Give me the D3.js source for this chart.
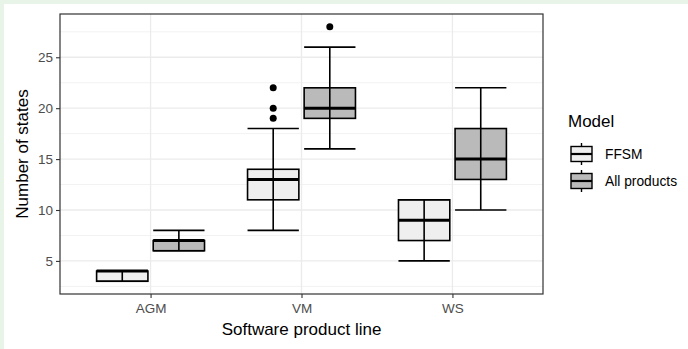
<!DOCTYPE html>
<html>
<head>
<meta charset="utf-8">
<script src="https://cdn.jsdelivr.net/npm/d3@7"></script>
<style>
  body { margin: 0; background: #e9f4e9; }
  svg { display: block; font-family: "Liberation Sans", Arial, sans-serif; }
</style>
</head>
<body>
<div id="wrapper"></div>
<script>
// data
const categories = ["AGM", "VM", "WS"]
const models = ["FFSM", "All products"]
const yTicks = [5, 10, 15, 20, 25]

const ffsmMin = [3, 8, 5]
const ffsmQ1 = [3, 11, 7]
const ffsmMedian = [4, 13, 9]
const ffsmQ3 = [4, 14, 11]
const ffsmMax = [4, 18, 11]
const ffsmOutliers = [[], [19, 20, 22], []]

const allMin = [6, 16, 10]
const allQ1 = [6, 19, 13]
const allMedian = [7, 20, 15]
const allQ3 = [7, 22, 18]
const allMax = [8, 26, 22]
const allOutliers = [[], [28], []]

function drawBoxes() {
  const rows = []
  categories.forEach((c, i) => {
    rows.push({cat: c, model: models[0], min: ffsmMin[i], q1: ffsmQ1[i], med: ffsmMedian[i], q3: ffsmQ3[i], max: ffsmMax[i], out: ffsmOutliers[i]})
    rows.push({cat: c, model: models[1], min: allMin[i], q1: allQ1[i], med: allMedian[i], q3: allQ3[i], max: allMax[i], out: allOutliers[i]})
  })

  const dimensions = {
    width: 688,
    height: 349,
    margin: {top: 14, right: 145, bottom: 55, left: 60},
  }
  dimensions.boundedWidth = dimensions.width - dimensions.margin.left - dimensions.margin.right
  dimensions.boundedHeight = dimensions.height - dimensions.margin.top - dimensions.margin.bottom

  const wrapper = d3.select("#wrapper")
    .append("svg")
      .attr("width", dimensions.width)
      .attr("height", dimensions.height)

  // pale strip along top and left edge, white page otherwise
  wrapper.append("rect")
      .attr("width", dimensions.width).attr("height", dimensions.height)
      .attr("fill", "#e9f4e9")
  wrapper.append("rect")
      .attr("x", 4).attr("y", 4)
      .attr("width", dimensions.width).attr("height", dimensions.height)
      .attr("fill", "white")

  const bounds = wrapper.append("g")
      .attr("transform", `translate(${dimensions.margin.left},${dimensions.margin.top})`)

  // scales (ggplot discrete expansion of 0.6 step each side)
  const xScale = d3.scalePoint()
    .domain(categories)
    .range([0, dimensions.boundedWidth])
    .padding(0.6)

  const step = xScale.step()
  const dodge = d3.scaleBand()
    .domain(models)
    .range([-0.375 * step, 0.375 * step])
  const boxWidth = 0.34 * step

  const yScale = d3.scaleLinear()
    .domain([1.75, 29.25])
    .range([dimensions.boundedHeight, 0])

  const fillScale = d3.scaleOrdinal()
    .domain(models)
    .range(["#efefef", "#bababa"])

  // grid
  const minor = d3.range(2.5, 29, 5)
  bounds.append("g").selectAll("line")
    .data(minor)
    .join("line")
      .attr("x1", 0).attr("x2", dimensions.boundedWidth)
      .attr("y1", d => yScale(d)).attr("y2", d => yScale(d))
      .attr("stroke", "#f2f2f2").attr("stroke-width", 1)
  bounds.append("g").selectAll("line")
    .data(yTicks)
    .join("line")
      .attr("x1", 0).attr("x2", dimensions.boundedWidth)
      .attr("y1", d => yScale(d)).attr("y2", d => yScale(d))
      .attr("stroke", "#ebebeb").attr("stroke-width", 1.3)
  bounds.append("g").selectAll("line")
    .data(categories)
    .join("line")
      .attr("x1", d => xScale(d)).attr("x2", d => xScale(d))
      .attr("y1", 0).attr("y2", dimensions.boundedHeight)
      .attr("stroke", "#ebebeb").attr("stroke-width", 1.3)

  // boxes
  const groups = bounds.selectAll(".box")
    .data(rows)
    .join("g")
      .attr("class", "box")
      .attr("transform", d => `translate(${xScale(d.cat) + dodge(d.model) + dodge.bandwidth() / 2},0)`)

  groups.append("rect")
      .attr("x", -boxWidth / 2)
      .attr("width", boxWidth)
      .attr("y", d => yScale(d.q3))
      .attr("height", d => yScale(d.q1) - yScale(d.q3))
      .attr("fill", d => fillScale(d.model))
      .attr("stroke", "black")
      .attr("stroke-width", 1.6)
  groups.append("line")
      .attr("x1", -boxWidth / 2).attr("x2", boxWidth / 2)
      .attr("y1", d => yScale(d.med)).attr("y2", d => yScale(d.med))
      .attr("stroke", "black").attr("stroke-width", 3)
  // error bar style whiskers drawn on top
  groups.append("line")
      .attr("x1", 0).attr("x2", 0)
      .attr("y1", d => yScale(d.min)).attr("y2", d => yScale(d.max))
      .attr("stroke", "black").attr("stroke-width", 1.6)
  groups.selectAll(".cap")
    .data(d => [d.min, d.max])
    .join("line")
      .attr("class", "cap")
      .attr("x1", -boxWidth / 2).attr("x2", boxWidth / 2)
      .attr("y1", d => yScale(d)).attr("y2", d => yScale(d))
      .attr("stroke", "black").attr("stroke-width", 1.6)
  groups.selectAll(".out")
    .data(d => d.out)
    .join("circle")
      .attr("class", "out")
      .attr("cy", d => yScale(d))
      .attr("r", 3.5)
      .attr("fill", "black")

  // panel border
  bounds.append("rect")
      .attr("width", dimensions.boundedWidth)
      .attr("height", dimensions.boundedHeight)
      .attr("fill", "none")
      .attr("stroke", "#333333")
      .attr("stroke-width", 1.2)

  // axes
  const xAxis = bounds.append("g")
      .attr("transform", `translate(0,${dimensions.boundedHeight})`)
      .call(d3.axisBottom(xScale).tickSize(4).tickPadding(5))
  const yAxis = bounds.append("g")
      .call(d3.axisLeft(yScale).tickValues(yTicks).tickSize(4).tickPadding(3))
  for (const ax of [xAxis, yAxis]) {
    ax.select(".domain").remove()
    ax.selectAll(".tick line").attr("stroke", "#333333").attr("stroke-width", 1.1)
    ax.selectAll(".tick text")
      .attr("fill", "#4d4d4d")
      .style("font-size", "13.5px")
      .style("font-family", "Liberation Sans, Arial, sans-serif")
  }

  wrapper.append("text")
      .attr("x", dimensions.margin.left + dimensions.boundedWidth / 2)
      .attr("y", 335)
      .attr("text-anchor", "middle")
      .style("font-size", "17px")
      .text("Software product line")

  wrapper.append("text")
      .attr("transform", `translate(28,${dimensions.margin.top + dimensions.boundedHeight / 2}) rotate(-90)`)
      .attr("text-anchor", "middle")
      .style("font-size", "17px")
      .text("Number of states")

  // legend
  const legend = wrapper.append("g")
      .attr("transform", "translate(568,0)")
  legend.append("text")
      .attr("x", 0).attr("y", 127)
      .style("font-size", "17px")
      .text("Model")
  const keys = legend.selectAll(".key")
    .data(models)
    .join("g")
      .attr("class", "key")
      .attr("transform", (d, i) => `translate(0,${154 + i * 27})`)
  keys.append("line")
      .attr("x1", 13.5).attr("x2", 13.5)
      .attr("y1", -11).attr("y2", 11)
      .attr("stroke", "black").attr("stroke-width", 1.4)
  keys.append("rect")
      .attr("x", 3).attr("y", -7.5)
      .attr("width", 21).attr("height", 15)
      .attr("fill", d => fillScale(d))
      .attr("stroke", "black").attr("stroke-width", 1.4)
  keys.append("line")
      .attr("x1", 3).attr("x2", 24)
      .attr("y1", 0).attr("y2", 0)
      .attr("stroke", "black").attr("stroke-width", 2.2)
  keys.append("text")
      .attr("x", 37).attr("y", 5)
      .style("font-size", "13.8px")
      .text(d => d)
}
drawBoxes()
</script>
</body>
</html>
